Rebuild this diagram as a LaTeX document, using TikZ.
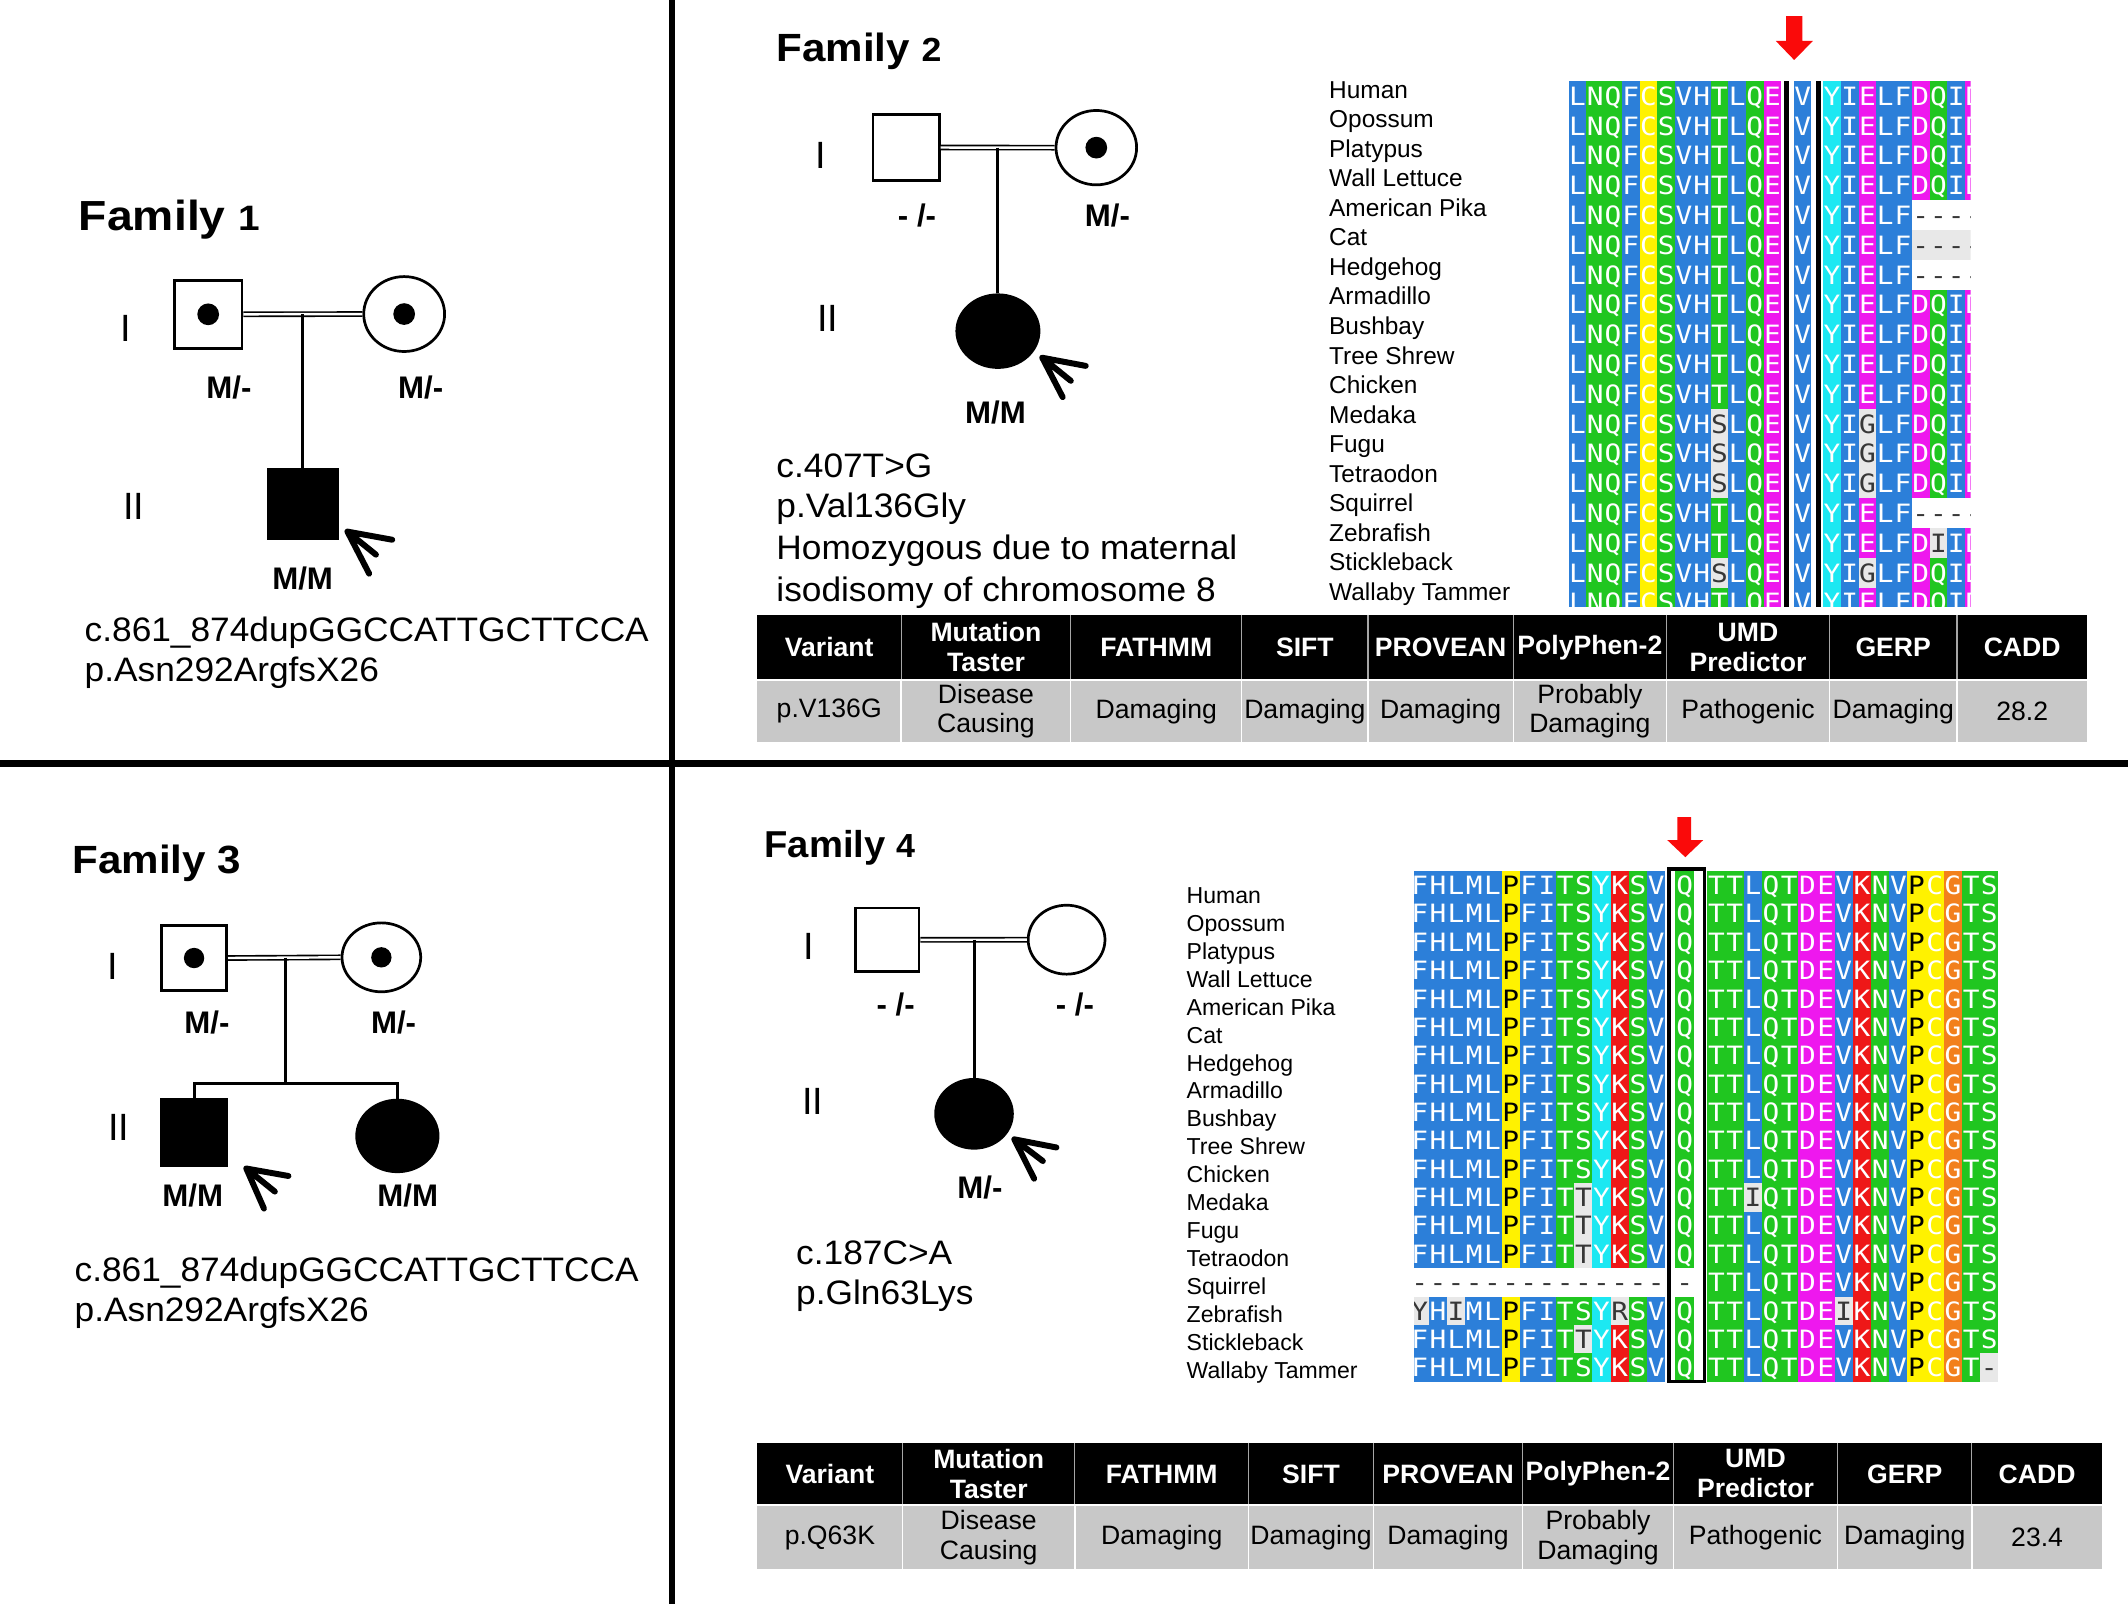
\documentclass[tikz,border=0pt]{standalone}
\usepackage{fontspec}
\usepackage{graphicx}
\setmainfont{Liberation Sans}
\newfontfamily\alnfont{DejaVu Sans Mono}
\usetikzlibrary{shapes.geometric}
\definecolor{ablue}{RGB}{44,127,217}
\definecolor{agreen}{RGB}{32,198,32}
\definecolor{amag}{RGB}{238,24,238}
\definecolor{acyan}{RGB}{28,232,242}
\definecolor{ayel}{RGB}{255,242,0}
\definecolor{ared}{RGB}{238,24,24}
\definecolor{aorange}{RGB}{242,128,28}
\definecolor{agray}{RGB}{232,232,232}
\definecolor{adark}{RGB}{55,55,55}
\definecolor{tgray}{RGB}{200,200,200}
\definecolor{arrowred}{RGB}{250,10,10}
\newcount\alncnt
\newcommand\defres[4]{\expandafter\def\csname alnc#1\endcsname{{#2}{#3}{#4}}}
\defres{L}{ablue}{white}{L}
\defres{F}{ablue}{white}{F}
\defres{V}{ablue}{white}{V}
\defres{I}{ablue}{white}{I}
\defres{M}{ablue}{white}{M}
\defres{H}{ablue}{white}{H}
\defres{N}{agreen}{white}{N}
\defres{Q}{agreen}{white}{Q}
\defres{S}{agreen}{white}{S}
\defres{T}{agreen}{white}{T}
\defres{E}{amag}{white}{E}
\defres{D}{amag}{white}{D}
\defres{Y}{acyan}{white}{Y}
\defres{K}{ared}{white}{K}
\defres{R}{ared}{white}{R}
\defres{P}{ayel}{black}{P}
\defres{C}{ayel}{white}{C}
\defres{G}{aorange}{white}{G}
\defres{s}{agray}{adark}{S}
\defres{g}{agray}{adark}{G}
\defres{i}{agray}{adark}{I}
\defres{t}{agray}{adark}{T}
\defres{y}{agray}{adark}{Y}
\defres{r}{agray}{adark}{R}
\defres{-}{white}{adark}{-}
\defres{=}{agray}{adark}{-}
\newcommand\alnrow[5]{\def\alnX{#1}\def\alnY{#2}\def\alnW{#3}\def\alnH{#4}\alncnt=0 \expandafter\alnloop#5\relax}
\def\alnloop#1{\ifx#1\relax\else\alncell{#1}\global\advance\alncnt by 1\relax\expandafter\alnloop\fi}
\newcommand\alncell[1]{\expandafter\expandafter\expandafter\alncellx\csname alnc#1\endcsname}
\newcommand\alncellx[3]{%
  \pgfmathsetmacro\alnx{\alnX+\the\alncnt*\alnW}%
  \fill[#1] (\alnx,\alnY-\alnH/2) rectangle ++(\alnW,\alnH);%
  \node[alnletter,text=#2] at (\alnx+\alnW/2,\alnY+6.8) {\scalebox{1.1}[1]{#3}};}
\begin{document}
\begin{tikzpicture}[x=0.5pt,y=-0.5pt,
  male/.style={draw, rectangle, line width=1pt, inner sep=0pt, minimum width=#1, minimum height=#1},
  female/.style 2 args={draw, ellipse, line width=1pt, inner sep=0pt, minimum width=#1, minimum height=#2},
  cdot/.style={circle, fill=black, inner sep=0pt, minimum size=#1},
  marriage/.style={draw=black, double=white, double distance=0.9pt, line width=0.6pt},
  descent/.style={line width=1.1pt},
  proband/.style={line width=2.2pt, line cap=round},
  gen/.style={inner sep=0pt, anchor=base, font=\fontsize{14}{16}\selectfont},
  geno/.style={inner sep=0pt, anchor=base, font=\bfseries\fontsize{11.5}{13}\selectfont},
  mut/.style={inner sep=0pt, anchor=base west, font=\fontsize{12.5}{15}\selectfont},
  famtitle/.style={inner sep=0pt, anchor=base west, font=\bfseries},
  spname/.style={inner sep=0pt, anchor=base west, font=\fontsize{#1}{#1}\selectfont},
  thead/.style={inner sep=0pt, align=center, text=white, font=\bfseries\fontsize{9.8}{11}\selectfont},
  tdata/.style={inner sep=0pt, align=center, text=black, font=\fontsize{9.8}{11}\selectfont},
  alnletter/.style={inner sep=0pt, anchor=base, font=\alnfont\fontsize{9.3}{9.3}\selectfont},
]
\useasboundingbox (0,0) rectangle (1568,1182);
\fill[white] (0,0) rectangle (1568,1182);

% ---------- dividers
\draw[line width=2.4pt] (495,0) -- (495,1182);
\draw[line width=2.4pt] (0,562.5) -- (1568,562.5);

% ---------- Family 1
\node[famtitle] (f1title) at (57.8,170) {\scalebox{1.1}[1]{\fontsize{15.5}{18}\selectfont Family {\fontsize{13}{15}\selectfont 1}}};
\node[gen] (f1g1) at (93,251.5) {I};
\node[gen] (f1g2) at (98.5,383) {II};
\node[male=25pt] (f1fa) at (153.4,231.6) {};
\node[cdot=8pt] (f1fad) at (f1fa.center) {};
\node[female={29.8pt}{27.6pt}] (f1mo) at (297.8,231.4) {};
\node[cdot=8pt] (f1mod) at (f1mo.center) {};
\node[male=25.5pt, fill=black] (f1son) at (223.2,371.4) {};
\draw[marriage] (f1fa.east) -- (f1mo.west);
\draw[descent] (f1son.north |- f1fa.east) -- (f1son.north);
\coordinate (f1tip) at (256,391.7);
\draw[proband] (f1tip) -- ++(33,6) (f1tip) -- ++(16,31) (f1tip) -- ++(21,17);
\node[geno] (f1l1) at (168.7,293.5) {M/-};
\node[geno] (f1l2) at (310,293.5) {M/-};
\node[geno] (f1l3) at (223,434.7) {M/M};
\node[mut] (f1c) at (62,472.7) {\scalebox{1.04}[1]{c.861\_874dupGGCCATTGCTTCCA}};
\node[mut] (f1p) at (62,502) {\scalebox{1.04}[1]{p.Asn292ArgfsX26}};

% ---------- Family 2
\node[famtitle] (f2title) at (571.7,45.4) {\scalebox{1.07}[1]{\fontsize{14.5}{17}\selectfont Family {\fontsize{12.3}{14}\selectfont 2}}};
\node[gen] (f2g1) at (605,124.5) {I};
\node[gen] (f2g2) at (610,244.6) {II};
\node[male=24.4pt] (f2fa) at (667.6,108.7) {};
\node[female={29.7pt}{27.4pt}] (f2mo) at (807.8,108.8) {};
\node[cdot=8pt] (f2mod) at (f2mo.center) {};
\node[female={30.3pt}{26.8pt}, fill=black] (f2d) at (735.3,244) {};
\draw[marriage] (f2fa.east) -- (f2mo.west);
\draw[descent] (f2d.north |- f2fa.east) -- (f2d.north);
\coordinate (f2tip) at (768,263.6);
\draw[proband] (f2tip) -- ++(32,6) (f2tip) -- ++(15,29) (f2tip) -- ++(21,17);
\node[geno] (f2l1) at (675.7,167) {- /-};
\node[geno] (f2l2) at (816,167) {M/-};
\node[geno] (f2l3) at (733.5,312) {M/M};
\node[mut] (f2c) at (571.7,351.5) {\scalebox{1.04}[1]{c.407T>G}};
\node[mut] (f2p) at (571.7,381.5) {\scalebox{1.04}[1]{p.Val136Gly}};
\node[mut] (f2h1) at (571.7,412.5) {\scalebox{1.04}[1]{Homozygous due to maternal}};
\node[mut] (f2h2) at (571.7,443) {\scalebox{1.04}[1]{isodisomy of chromosome 8}};

\foreach \n [count=\i from 0] in {Human,Opossum,Platypus,Wall Lettuce,American Pika,Cat,Hedgehog,Armadillo,Bushbay,Tree Shrew,Chicken,Medaka,Fugu,Tetraodon,Squirrel,Zebrafish,Stickleback,Wallaby Tammer}
  \node[spname=9] (f2sp\i) at (979,{66+\i*21.76+6.4}) {\n};

\begin{scope}
\clip (1150,59.9) rectangle (1452,447);
\foreach \i/\ra/\rb/\rc in {
 1/LNQFCSVHTLQE/V/YIELFDQID,
 2/LNQFCSVHTLQE/V/YIELFDQID,
 3/LNQFCSVHTLQE/V/YIELFDQID,
 4/LNQFCSVHTLQE/V/YIELFDQID,
 5/LNQFCSVHTLQE/V/YIELF----,
 6/LNQFCSVHTLQE/V/YIELF====,
 7/LNQFCSVHTLQE/V/YIELF----,
 8/LNQFCSVHTLQE/V/YIELFDQID,
 9/LNQFCSVHTLQE/V/YIELFDQID,
 10/LNQFCSVHTLQE/V/YIELFDQID,
 11/LNQFCSVHTLQE/V/YIELFDQID,
 12/LNQFCSVHsLQE/V/YIgLFDQID,
 13/LNQFCSVHsLQE/V/YIgLFDQID,
 14/LNQFCSVHsLQE/V/YIgLFDQID,
 15/LNQFCSVHTLQE/V/YIELF----,
 16/LNQFCSVHTLQE/V/YIELFDiID,
 17/LNQFCSVHsLQE/V/YIgLFDQID,
 18/LNQFCSVHTLQE/V/YIELFDQID}{
  \pgfmathsetmacro\yc{59.9+(\i-0.5)*21.95}
  \alnrow{1155.9}{\yc}{13.06}{21.95}{\ra}
  \alnrow{1322}{\yc}{12.6}{21.95}{\rb}
  \alnrow{1343.4}{\yc}{13.06}{21.95}{\rc}
}
\end{scope}
\fill[black] (1314.6,59.9) rectangle (1318.4,447);
\fill[black] (1338.4,59.9) rectangle (1342.1,447);
\fill[arrowred] (1316,11.8) -- (1328,11.8) -- (1328,30.2) -- (1335.8,30.2) -- (1322,44.2) -- (1308.5,30.2) -- (1316,30.2) -- cycle;

% table family 2
\fill[black] (558,453) rectangle (1538,500);
\fill[tgray] (558,501.5) rectangle (1538,547);
\foreach \x in {664,789,915,1008,1115,1228,1348,1442}{
  \draw[gray!70, line width=0.4pt] (\x,453) -- (\x,500);
  \draw[white, line width=0.5pt] (\x,501.5) -- (\x,547);
}
\foreach \l/\r/\h/\d [count=\k] in {558/664/Variant/p.V136G, 664/789/{Mutation\\Taster}/{Disease\\Causing}, 789/915/FATHMM/Damaging, 915/1008/SIFT/Damaging, 1008/1115/PROVEAN/Damaging, 1115/1228/PolyPhen-2/{Probably\\Damaging}, 1228/1348/{UMD\\Predictor}/Pathogenic, 1348/1442/GERP/Damaging, 1442/1538/CADD/28.2}{
  \node[thead] (t2h\k) at ({(\l+\r)/2},477) {\h};
  \node[tdata] (t2d\k) at ({(\l+\r)/2},524) {\d};
}

% ---------- Family 3
\node[famtitle] (f3title) at (53,643.6) {\scalebox{1.07}[1]{\fontsize{14.5}{17}\selectfont Family 3}};
\node[gen] (f3g1) at (83,722) {I};
\node[gen] (f3g2) at (87.5,840) {II};
\node[male=24pt] (f3fa) at (143,705.9) {};
\node[cdot=7.5pt] (f3fad) at (f3fa.center) {};
\node[female={29pt}{25.4pt}] (f3mo) at (281,705.4) {};
\node[cdot=7.5pt] (f3mod) at (f3mo.center) {};
\node[male=24.3pt, fill=black] (f3son) at (143,834.6) {};
\node[female={30pt}{26.4pt}, fill=black] (f3d) at (292.8,837) {};
\draw[marriage] (f3fa.east) -- (f3mo.west);
\coordinate (f3m) at (210.4,705.6);
\coordinate (f3sib) at (210.4,798.4);
\draw[descent] (f3m) -- (f3sib);
\draw[descent] (f3son.north) -- (f3son.north |- f3sib) -- (f3d.north |- f3sib) -- (f3d.north);
\coordinate (f3tip) at (181.5,861);
\draw[proband] (f3tip) -- ++(31,5.5) (f3tip) -- ++(13,29.5) (f3tip) -- ++(21,17);
\node[geno] (f3l1) at (152.5,761.5) {M/-};
\node[geno] (f3l2) at (290,761.5) {M/-};
\node[geno] (f3l3) at (142,889) {M/M};
\node[geno] (f3l4) at (300.5,889) {M/M};
\node[mut] (f3c) at (54.6,944.5) {\scalebox{1.04}[1]{c.861\_874dupGGCCATTGCTTCCA}};
\node[mut] (f3p) at (54.6,974) {\scalebox{1.04}[1]{p.Asn292ArgfsX26}};

% ---------- Family 4
\node[famtitle] (f4title) at (562.9,631.8) {\scalebox{1.02}[1]{\fontsize{13.8}{16}\selectfont Family {\fontsize{12.3}{14}\selectfont 4}}};
\node[gen] (f4g1) at (596,707) {I};
\node[gen] (f4g2) at (599,821) {II};
\node[male=23.5pt] (f4fa) at (653.6,692.5) {};
\node[female={28.3pt}{25.4pt}] (f4mo) at (785.9,692.4) {};
\node[female={28.3pt}{25.4pt}, fill=black] (f4d) at (717.7,820.7) {};
\draw[marriage] (f4fa.east) -- (f4mo.west);
\draw[descent] (f4d.north |- f4fa.east) -- (f4d.north);
\coordinate (f4tip) at (747.4,839.5);
\draw[proband] (f4tip) -- ++(31,6) (f4tip) -- ++(14.6,29) (f4tip) -- ++(21,16);
\node[geno] (f4l1) at (660,748) {- /-};
\node[geno] (f4l2) at (792,748) {- /-};
\node[geno] (f4l3) at (722,883) {M/-};
\node[mut] (f4c) at (586.3,932) {\scalebox{1.04}[1]{c.187C>A}};
\node[mut] (f4p) at (586.3,961) {\scalebox{1.04}[1]{p.Gln63Lys}};

\foreach \n [count=\i from 0] in {Human,Opossum,Platypus,Wall Lettuce,American Pika,Cat,Hedgehog,Armadillo,Bushbay,Tree Shrew,Chicken,Medaka,Fugu,Tetraodon,Squirrel,Zebrafish,Stickleback,Wallaby Tammer}
  \node[spname=8.5] (f4sp\i) at (874,{659.6+\i*20.58+6.1}) {\n};

\begin{scope}
\clip (1042,641.9) rectangle (1473,1019);
\foreach \i/\ra/\rb/\rc in {
 1/FHLMLPFITSYKSV/Q/TTLQTDEVKNVPCGTS,
 2/FHLMLPFITSYKSV/Q/TTLQTDEVKNVPCGTS,
 3/FHLMLPFITSYKSV/Q/TTLQTDEVKNVPCGTS,
 4/FHLMLPFITSYKSV/Q/TTLQTDEVKNVPCGTS,
 5/FHLMLPFITSYKSV/Q/TTLQTDEVKNVPCGTS,
 6/FHLMLPFITSYKSV/Q/TTLQTDEVKNVPCGTS,
 7/FHLMLPFITSYKSV/Q/TTLQTDEVKNVPCGTS,
 8/FHLMLPFITSYKSV/Q/TTLQTDEVKNVPCGTS,
 9/FHLMLPFITSYKSV/Q/TTLQTDEVKNVPCGTS,
 10/FHLMLPFITSYKSV/Q/TTLQTDEVKNVPCGTS,
 11/FHLMLPFITSYKSV/Q/TTLQTDEVKNVPCGTS,
 12/FHLMLPFITtYKSV/Q/TTiQTDEVKNVPCGTS,
 13/FHLMLPFITtYKSV/Q/TTLQTDEVKNVPCGTS,
 14/FHLMLPFITtYKSV/Q/TTLQTDEVKNVPCGTS,
 15/--------------/-/TTLQTDEVKNVPCGTS,
 16/yHiMLPFITSYrSV/Q/TTLQTDEiKNVPCGTS,
 17/FHLMLPFITtYKSV/Q/TTLQTDEVKNVPCGTS,
 18/FHLMLPFITSYKSV/Q/TTLQTDEVKNVPCGT=}{
  \pgfmathsetmacro\yc{641.9+(\i-0.5)*20.9}
  \alnrow{1039.4}{\yc}{13.4}{20.9}{\ra}
  \alnrow{1234.4}{\yc}{14}{20.9}{\rb}
  \alnrow{1258.1}{\yc}{13.4}{20.9}{\rc}
}
\end{scope}
\draw[line width=1.4pt] (1229.7,640.2) rectangle (1255.9,1018);
\fill[arrowred] (1236,602) -- (1246,602) -- (1246,619) -- (1255,619) -- (1241.8,631.6) -- (1228.5,619) -- (1236,619) -- cycle;

% table family 4
\fill[black] (558,1063) rectangle (1549,1108.5);
\fill[tgray] (558,1110) rectangle (1549,1156);
\foreach \x in {665,792,920,1012,1122,1233,1354,1453}{
  \draw[gray!70, line width=0.4pt] (\x,1063) -- (\x,1108.5);
  \draw[white, line width=0.5pt] (\x,1110) -- (\x,1156);
}
\foreach \l/\r/\h/\d [count=\k] in {558/665/Variant/p.Q63K, 665/792/{Mutation\\Taster}/{Disease\\Causing}, 792/920/FATHMM/Damaging, 920/1012/SIFT/Damaging, 1012/1122/PROVEAN/Damaging, 1122/1233/PolyPhen-2/{Probably\\Damaging}, 1233/1354/{UMD\\Predictor}/Pathogenic, 1354/1453/GERP/Damaging, 1453/1549/CADD/23.4}{
  \node[thead] (t4h\k) at ({(\l+\r)/2},1086) {\h};
  \node[tdata] (t4d\k) at ({(\l+\r)/2},1133) {\d};
}
\end{tikzpicture}
\end{document}
